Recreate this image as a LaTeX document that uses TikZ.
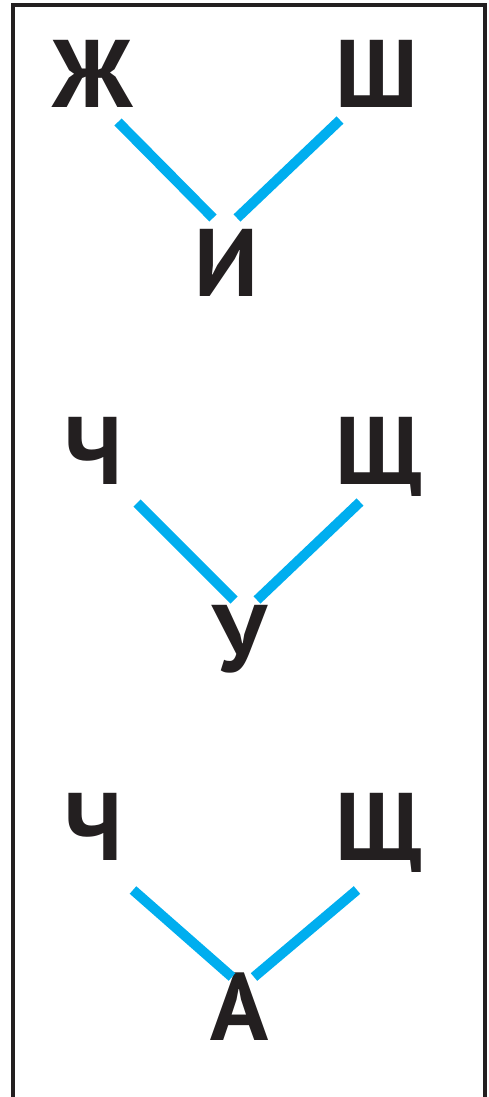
\documentclass[tikz,border=0pt]{standalone}
\usepackage{fontspec}
\setmainfont{PT Sans}
\definecolor{frameink}{HTML}{231F20}
\definecolor{cyanline}{HTML}{00AEEF}
\begin{document}
\begin{tikzpicture}[x=1pt,y=-1pt,
  letter/.style={inner sep=0pt,anchor=base,font=\fontsize{96}{96}\selectfont\bfseries,text=frameink},
  link/.style={draw=cyanline,line width=10pt,line cap=butt},
  framebar/.style={draw=frameink,line width=4.5pt}]
\useasboundingbox (0,0) rectangle (489,1097);
\draw[framebar] (13,1105) -- (13,5) -- (485,5) -- (485,1105);
% group 1
\node[letter] (zh) at (93,108) {Ж};
\node[letter] (sh) at (377,108) {Ш};
\node[letter] (i)  at (226,296) {И};
\coordinate (zhA) at (118,122); \coordinate (zhB) at (213,218);
\coordinate (shA) at (340,120); \coordinate (shB) at (237,218);
\draw[link] (zhA) -- (zhB);
\draw[link] (shA) -- (shB);
% group 2
\node[letter] (ch1) at (94,484) {Ч};
\node[letter] (shch1) at (379,484) {Щ};
\node[letter] (u) at (240,672) {У};
\coordinate (ch1A) at (137,503); \coordinate (ch1B) at (234,600);
\coordinate (shch1A) at (360,502); \coordinate (shch1B) at (257,600);
\draw[link] (ch1A) -- (ch1B);
\draw[link] (shch1A) -- (shch1B);
% group 3
\node[letter] (ch2) at (94,860) {Ч};
\node[letter] (shch2) at (379,860) {Щ};
\node[letter] (a) at (240,1040) {А};
\coordinate (ch2A) at (133,890); \coordinate (ch2B) at (232,977);
\coordinate (shch2A) at (357,890); \coordinate (shch2B) at (254,977);
\draw[link] (ch2A) -- (ch2B);
\draw[link] (shch2A) -- (shch2B);
\end{tikzpicture}
\end{document}
